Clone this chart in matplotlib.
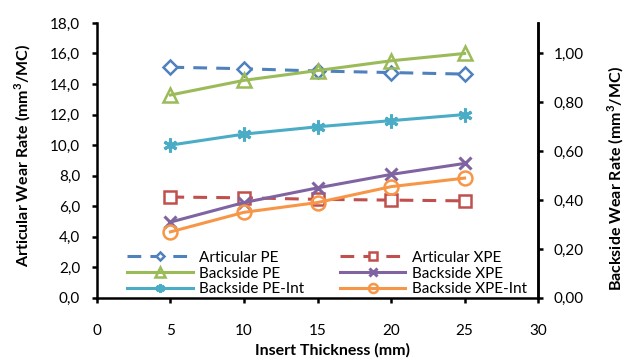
import matplotlib
matplotlib.use("Agg")
import matplotlib.pyplot as plt
from matplotlib.ticker import FuncFormatter, MultipleLocator

thickness = [5, 10, 15, 20, 25]
articular_pe = [15.1, 15.0, 14.85, 14.75, 14.65]
articular_xpe = [6.6, 6.55, 6.45, 6.4, 6.35]
backside_pe = [0.83, 0.89, 0.93, 0.97, 1.00]
backside_xpe = [0.31, 0.39, 0.45, 0.505, 0.55]
backside_pe_int = [0.625, 0.67, 0.70, 0.725, 0.75]
backside_xpe_int = [0.27, 0.35, 0.39, 0.455, 0.49]

plt.rcParams['font.family'] = ['Lato', 'DejaVu Sans']

fig = plt.figure(figsize=(6.25, 3.58), dpi=100)
ax = fig.add_axes([0.155, 0.168, 0.706, 0.768])
ax2 = ax.twinx()

blue, red, green, purple, aqua, orange = '#4F81BD', '#C0504D', '#9BBB59', '#8064A2', '#4BACC6', '#F79646'
lw = 2.2
dash = (0, (4.5, 3))
h1, = ax.plot(thickness, articular_pe, color=blue, ls=dash, lw=lw, marker='D', ms=7,
              mfc='white', mec=blue, mew=1.8, label='Articular PE')
h2, = ax.plot(thickness, articular_xpe, color=red, ls=dash, lw=lw, marker='s', ms=9,
              mfc='white', mec=red, mew=1.8, label='Articular XPE')
h3, = ax2.plot(thickness, backside_pe, color=green, lw=lw, marker='^', ms=10,
               mfc='none', mec=green, mew=1.8, label='Backside PE')
h4, = ax2.plot(thickness, backside_xpe, color=purple, lw=lw, marker='x', ms=9,
               mec=purple, mew=2.2, label='Backside XPE')
h5, = ax2.plot(thickness, backside_pe_int, color=aqua, lw=lw, marker=(6, 2, 0), ms=10,
               mec=aqua, mew=2.2, label='Backside PE-Int')
h6, = ax2.plot(thickness, backside_xpe_int, color=orange, lw=lw, marker='o', ms=10,
               mfc='none', mec=orange, mew=1.8, label='Backside XPE-Int')

ax.set_xlim(0, 30)
ax.set_ylim(0, 18)
ax2.set_ylim(0, 1.125)
ax.xaxis.set_major_locator(MultipleLocator(5))
ax.yaxis.set_major_locator(MultipleLocator(2))
ax2.set_yticks([0, 0.2, 0.4, 0.6, 0.8, 1.0])
ax.yaxis.set_major_formatter(FuncFormatter(lambda v, p: f"{v:.1f}".replace('.', ',')))
ax2.yaxis.set_major_formatter(FuncFormatter(lambda v, p: f"{v:.2f}".replace('.', ',')))

for a in (ax, ax2):
    a.spines['top'].set_visible(False)
    for s in a.spines.values():
        s.set_linewidth(1.8)
    a.tick_params(width=1.8, length=3.5, labelsize=11, colors='black')
ax2.spines['left'].set_visible(False)
ax2.spines['bottom'].set_visible(False)
ax.tick_params(axis='x', pad=15)
ax.tick_params(axis='y', pad=8.5)
ax2.tick_params(axis='y', pad=7.5)

ax.set_xlabel('Insert Thickness (mm)', fontsize=11.5, fontweight='bold', labelpad=0)
ax.xaxis.set_label_coords(0.535, -0.165)
ax.set_ylabel('Articular Wear Rate (mm$^{\\mathregular{3}}$/MC)', fontsize=11.5, fontweight='bold')
ax.yaxis.set_label_coords(-0.145, 0.52)
ax2.set_ylabel('Backside Wear Rate (mm$^{\\mathregular{3}}$/MC)', fontsize=11.5, fontweight='bold')
ax2.yaxis.set_label_coords(1.152, 0.433)

leg = ax2.legend([h1, h3, h5, h2, h4, h6],
                 [h.get_label() for h in [h1, h3, h5, h2, h4, h6]],
                 ncol=2, frameon=False, loc='lower left', bbox_to_anchor=(0.068, 0.005),
                 borderaxespad=0, borderpad=0,
                 fontsize=11, handlelength=4.3, columnspacing=2.3, labelspacing=0.12,
                 handletextpad=0.45, markerscale=0.65)

fig.savefig('out.png', dpi=100)
